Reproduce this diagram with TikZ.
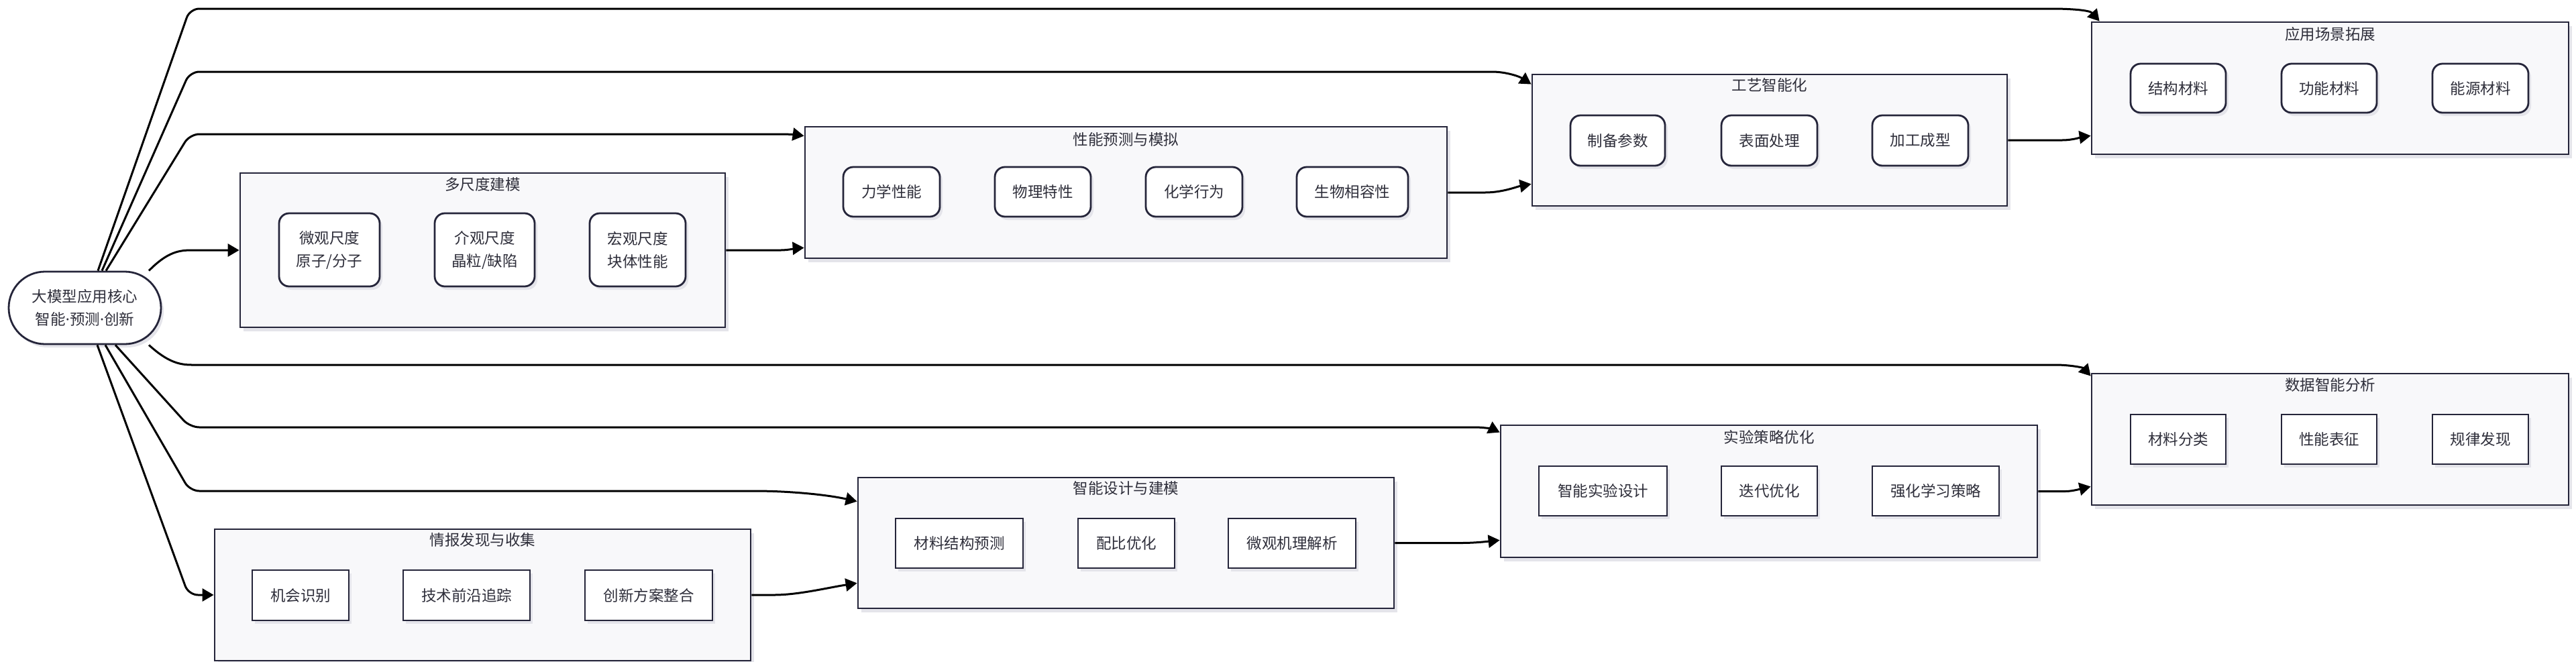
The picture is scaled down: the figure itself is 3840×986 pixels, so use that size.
\documentclass[tikz,border=0pt]{standalone}
\usepackage{fontspec}
\setmainfont{Noto Sans CJK SC}
\newfontfamily\latinfont{Noto Sans}
\usetikzlibrary{shadows,arrows.meta}
\definecolor{bd}{HTML}{25253A}
\definecolor{gfill}{HTML}{F8F8FA}
\definecolor{shd}{HTML}{E4E4EA}
\definecolor{txt}{HTML}{2E2E3A}
\begin{document}
\begin{tikzpicture}[x=1pt,y=-1pt,
  font=\fontsize{22.5}{34}\selectfont, text=txt,
  group/.style={draw=bd, line width=2.8pt, fill=gfill, inner sep=0pt,
    drop shadow={shadow xshift=5pt, shadow yshift=-6pt, fill=shd, opacity=1}},
  item/.style={draw=bd, line width=2.8pt, fill=white, inner sep=0pt, align=center,
    drop shadow={shadow xshift=4pt, shadow yshift=-5pt, fill=shd, opacity=1}},
  ritem/.style={item, rounded corners=15pt},
  gtitle/.style={inner sep=0pt},
  conn/.style={line width=3pt, black, rounded corners=14pt, -{Triangle[length=17pt,width=19pt]}},
  corenode/.style={draw=bd, line width=2.8pt, fill=white, align=center, rounded corners=54pt,
    minimum width=227pt, minimum height=108pt, inner sep=0pt,
    drop shadow={shadow xshift=4pt, shadow yshift=-5pt, fill=shd, opacity=1}}
]
\path[use as bounding box, fill=white] (0,0) rectangle (3840,986);

% core
\node[corenode] (core) at (126.5,459) {大模型应用核心\\智能{\latinfont ·}预测{\latinfont ·}创新};

% group boxes
\node[group, minimum width=723pt, minimum height=230pt] (ms) at (719.5,373) {};
\node[group, minimum width=957pt, minimum height=196pt] (perf) at (1678.5,287) {};
\node[group, minimum width=708pt, minimum height=196pt] (proc) at (2638,209) {};
\node[group, minimum width=711pt, minimum height=197pt] (app) at (3473.5,131.5) {};
\node[group, minimum width=799pt, minimum height=196pt] (intel) at (719.5,887) {};
\node[group, minimum width=799pt, minimum height=195pt] (design) at (1678.5,809.5) {};
\node[group, minimum width=800pt, minimum height=197pt] (exp) at (2637,732.5) {};
\node[group, minimum width=711pt, minimum height=196pt] (data) at (3473.5,655) {};

% titles
\node[gtitle] (msT) at ([yshift=-18pt]ms.north) {多尺度建模};
\node[gtitle] (perfT) at ([yshift=-20pt]perf.north) {性能预测与模拟};
\node[gtitle] (procT) at ([yshift=-17pt]proc.north) {工艺智能化};
\node[gtitle] (appT) at ([yshift=-19pt]app.north) {应用场景拓展};
\node[gtitle] (intelT) at ([yshift=-17pt]intel.north) {情报发现与收集};
\node[gtitle] (designT) at ([yshift=-17pt]design.north) {智能设计与建模};
\node[gtitle] (expT) at ([yshift=-19pt]exp.north) {实验策略优化};
\node[gtitle] (dataT) at ([yshift=-18pt]data.north) {数据智能分析};

% multiscale children
\node[ritem, minimum width=150pt, minimum height=109pt] (ms1) at (491,372.5) {微观尺度\\原子/分子};
\node[ritem, minimum width=149pt, minimum height=109pt] (ms2) at (722.5,372.5) {介观尺度\\晶粒/缺陷};
\node[ritem, minimum width=143pt, minimum height=109pt] (ms3) at (950.5,372.5) {宏观尺度\\块体性能};

% performance children
\node[ritem, minimum width=144pt, minimum height=74pt] (pf1) at (1329,286) {力学性能};
\node[ritem, minimum width=143pt, minimum height=74pt] (pf2) at (1554.5,286) {物理特性};
\node[ritem, minimum width=144pt, minimum height=74pt] (pf3) at (1780,286) {化学行为};
\node[ritem, minimum width=166pt, minimum height=74pt] (pf4) at (2016,286) {生物相容性};

% process children
\node[ritem, minimum width=141pt, minimum height=75pt] (pc1) at (2411.5,209.5) {制备参数};
\node[ritem, minimum width=143pt, minimum height=75pt] (pc2) at (2637.5,209.5) {表面处理};
\node[ritem, minimum width=143pt, minimum height=75pt] (pc3) at (2862.5,209.5) {加工成型};

% application children
\node[ritem, minimum width=142pt, minimum height=73pt] (ap1) at (3247,131.5) {结构材料};
\node[ritem, minimum width=142pt, minimum height=73pt] (ap2) at (3472,131.5) {功能材料};
\node[ritem, minimum width=143pt, minimum height=73pt] (ap3) at (3697.5,131.5) {能源材料};

% intelligence children
\node[item, minimum width=144pt, minimum height=75pt] (in1) at (448,887.5) {机会识别};
\node[item, minimum width=189pt, minimum height=75pt] (in2) at (695.5,887.5) {技术前沿追踪};
\node[item, minimum width=190pt, minimum height=75pt] (in3) at (967,887.5) {创新方案整合};

% design children
\node[item, minimum width=190pt, minimum height=74pt] (ds1) at (1430,810) {材料结构预测};
\node[item, minimum width=144pt, minimum height=74pt] (ds2) at (1679,810) {配比优化};
\node[item, minimum width=190pt, minimum height=74pt] (ds3) at (1926,810) {微观机理解析};

% experiment children
\node[item, minimum width=191pt, minimum height=74pt] (ex1) at (2389.5,732) {智能实验设计};
\node[item, minimum width=143pt, minimum height=74pt] (ex2) at (2637.5,732) {迭代优化};
\node[item, minimum width=189pt, minimum height=74pt] (ex3) at (2885.5,732) {强化学习策略};

% data children
\node[item, minimum width=142pt, minimum height=74pt] (dt1) at (3247,655) {材料分类};
\node[item, minimum width=142pt, minimum height=74pt] (dt2) at (3472,655) {性能表征};
\node[item, minimum width=143pt, minimum height=74pt] (dt3) at (3697.5,655) {规律发现};

% connectors from core (top)
\draw[conn] ([xshift=19.5pt]core.north) -- (283,13) -- (3045,13)
  .. controls (3085,13) and (3115,15) .. ([xshift=13pt]app.north west);
\draw[conn] ([xshift=25.5pt]core.north) -- (283,107) -- (2210,107)
  .. controls (2245,107) and (2265,114) .. ([yshift=-16pt]proc.north west);
\draw[conn] ([xshift=31.5pt]core.north) -- (283,200) -- (1150,200)
  .. controls (1175,200) and (1188,201) .. ([yshift=-15pt]perf.north west);
\draw[conn] ([xshift=95.5pt]core.north) .. controls (250,375) and (268,373) .. (300,373) -- (ms.west);

% connectors from core (bottom)
\draw[conn] ([xshift=95.5pt]core.south) .. controls (250,540) and (268,544) .. (300,544) -- (3050,544)
  .. controls (3085,544) and (3105,548) .. ([yshift=-5pt]data.north west);
\draw[conn] ([xshift=45.5pt]core.south) -- (283,637) -- (2185,637)
  .. controls (2212,637) and (2226,640) .. ([yshift=-12pt]exp.north west);
\draw[conn] ([xshift=30.5pt]core.south) -- (283,732) -- (1110,732)
  .. controls (1180,732) and (1235,738) .. ([yshift=-37pt]design.north west);
\draw[conn] ([xshift=18.5pt]core.south) -- (281,887) -- (intel.west);

% chain connectors
\draw[conn] (ms.east) -- (1150,373) .. controls (1175,373) and (1188,370) .. ([yshift=17pt]perf.south west);
\draw[conn] (perf.east) -- (2200,287) .. controls (2240,287) and (2262,278) .. ([yshift=34pt]proc.south west);
\draw[conn] (proc.east) -- (3060,209) .. controls (3090,209) and (3105,204) .. ([yshift=29pt]app.south west);
\draw[conn] (intel.east) -- (1140,887) .. controls (1190,887) and (1235,876) .. ([yshift=39pt]design.south west);
\draw[conn] (design.east) -- (2165,809.5) .. controls (2200,809.5) and (2220,807) .. ([yshift=27pt]exp.south west);
\draw[conn] (exp.east) -- (3065,732.5) .. controls (3090,732.5) and (3105,728) .. ([yshift=29pt]data.south west);
\end{tikzpicture}
\end{document}
